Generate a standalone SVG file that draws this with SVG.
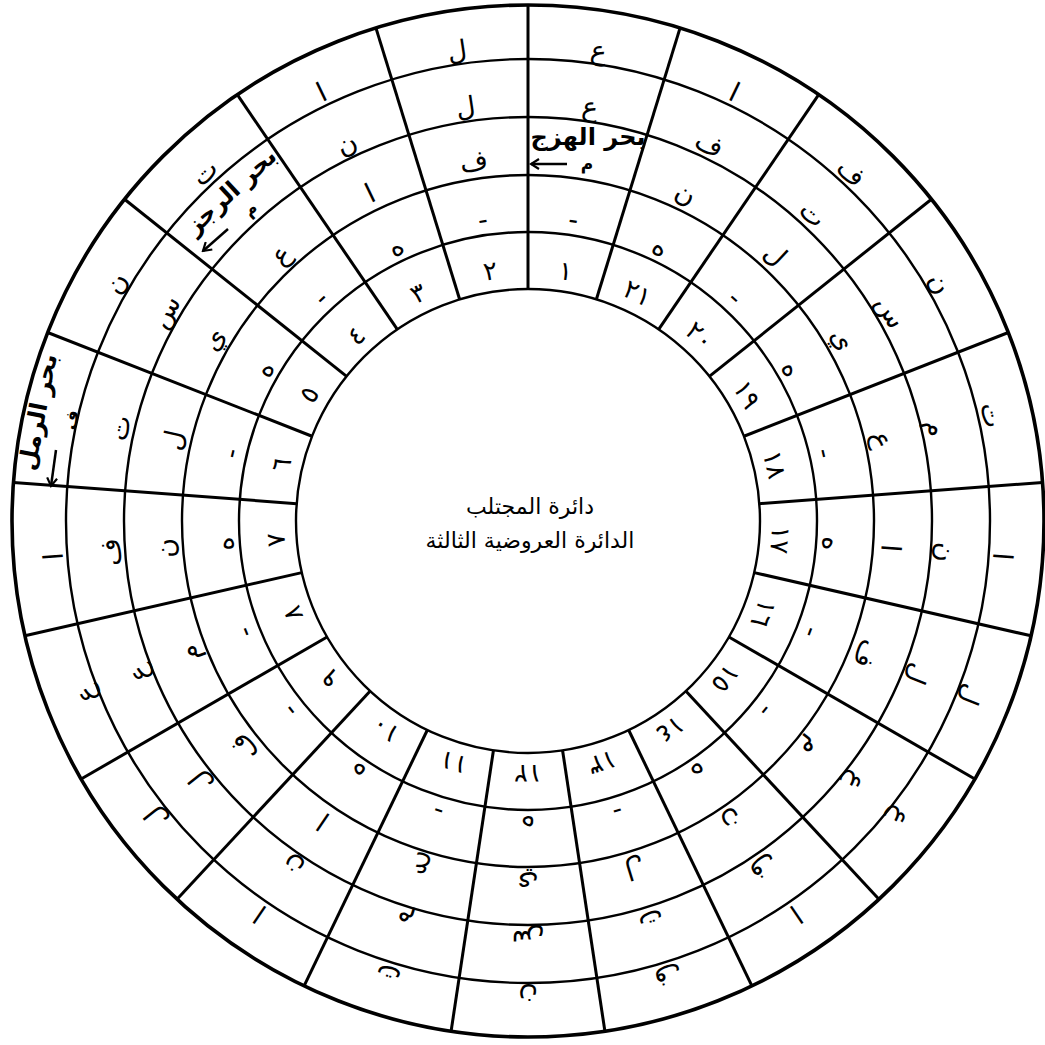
<svg xmlns="http://www.w3.org/2000/svg" width="1045" height="1045" viewBox="0 0 1045 1045">
<style>
.ring{fill:none;stroke:#000;stroke-width:2.4}
.outer{stroke-width:3.6}
.div line{stroke:#000;stroke-width:3}
.t{font-family:'DejaVu Sans',sans-serif;font-size:27px;text-anchor:middle;dominant-baseline:central;fill:#000}
.n{font-size:26px}
.lbl{font-weight:bold;font-size:24px}
.m{font-size:17px;font-weight:bold}
.ctr{font-size:22px}
.arr{fill:none;stroke:#000;stroke-width:2.5}
</style>
<defs>
<marker id="ah" viewBox="0 0 12 12" refX="10" refY="6" markerWidth="12" markerHeight="12" markerUnits="userSpaceOnUse" orient="auto"><path d="M2,1 L10,6 L2,11" fill="none" stroke="#000" stroke-width="2.2"/></marker>
</defs>
<rect width="1045" height="1045" fill="#fff"/>
<g id="rings">
<circle class="ring" cx="528" cy="521" r="232"/>
<circle class="ring" cx="528" cy="521" r="289"/>
<circle class="ring" cx="528" cy="521" r="346"/>
<circle class="ring" cx="528" cy="521" r="404"/>
<circle class="ring" cx="528" cy="521" r="462"/>
<circle class="ring outer" cx="528" cy="521" r="516"/>
</g>
<g id="connectors" class="div">
<line x1="528" y1="289" x2="528" y2="5"/>
<line x1="528" y1="289" x2="528" y2="5" transform="rotate(17.143 528 521)"/>
<line x1="528" y1="289" x2="528" y2="5" transform="rotate(34.286 528 521)"/>
<line x1="528" y1="289" x2="528" y2="5" transform="rotate(51.429 528 521)"/>
<line x1="528" y1="289" x2="528" y2="5" transform="rotate(68.571 528 521)"/>
<line x1="528" y1="289" x2="528" y2="5" transform="rotate(85.714 528 521)"/>
<line x1="528" y1="289" x2="528" y2="5" transform="rotate(102.857 528 521)"/>
<line x1="528" y1="289" x2="528" y2="5" transform="rotate(120 528 521)"/>
<line x1="528" y1="289" x2="528" y2="5" transform="rotate(137.143 528 521)"/>
<line x1="528" y1="289" x2="528" y2="5" transform="rotate(154.286 528 521)"/>
<line x1="528" y1="289" x2="528" y2="5" transform="rotate(171.429 528 521)"/>
<line x1="528" y1="289" x2="528" y2="5" transform="rotate(188.571 528 521)"/>
<line x1="528" y1="289" x2="528" y2="5" transform="rotate(205.714 528 521)"/>
<line x1="528" y1="289" x2="528" y2="5" transform="rotate(222.857 528 521)"/>
<line x1="528" y1="289" x2="528" y2="5" transform="rotate(240 528 521)"/>
<line x1="528" y1="289" x2="528" y2="5" transform="rotate(257.143 528 521)"/>
<line x1="528" y1="289" x2="528" y2="5" transform="rotate(274.286 528 521)"/>
<line x1="528" y1="289" x2="528" y2="5" transform="rotate(291.429 528 521)"/>
<line x1="528" y1="289" x2="528" y2="5" transform="rotate(308.571 528 521)"/>
<line x1="528" y1="289" x2="528" y2="5" transform="rotate(325.714 528 521)"/>
<line x1="528" y1="289" x2="528" y2="5" transform="rotate(342.857 528 521)"/>
</g>
<g id="sector-1" transform="rotate(8.571 528 521)">
<text class="t" x="528" y="45">ع</text><text class="t" x="528" y="102">ع</text><text class="t" x="528" y="216">-</text><text class="t n" x="528" y="268">١</text>
</g>
<g id="sector-2" transform="rotate(-8.571 528 521)">
<text class="t" x="528" y="45">ل</text><text class="t" x="528" y="102">ل</text><text class="t" x="528" y="157">ف</text><text class="t" x="528" y="216">-</text><text class="t n" x="528" y="268">٢</text>
</g>
<g id="sector-3" transform="rotate(-25.714 528 521)">
<text class="t" x="528" y="45">ا</text><text class="t" x="528" y="102">ن</text><text class="t" x="528" y="157">ا</text><text class="t" x="528" y="216">ه</text><text class="t n" x="528" y="268">٣</text>
</g>
<g id="sector-4" transform="rotate(-42.857 528 521)">
<text class="t" x="528" y="45">ت</text><text class="t" x="528" y="157">ع</text><text class="t" x="528" y="216">-</text><text class="t n" x="528" y="268">٤</text>
</g>
<g id="sector-5" transform="rotate(-60 528 521)">
<text class="t" x="528" y="45">ن</text><text class="t" x="528" y="102">س</text><text class="t" x="528" y="157">ي</text><text class="t" x="528" y="216">ه</text><text class="t n" x="528" y="268">٥</text>
</g>
<g id="sector-6" transform="rotate(-77.143 528 521)">
<text class="t" x="528" y="102">ت</text><text class="t" x="528" y="157">ل</text><text class="t" x="528" y="216">-</text><text class="t n" x="528" y="268">٦</text>
</g>
<g id="sector-7" transform="rotate(-94.286 528 521)">
<text class="t" x="528" y="45">ا</text><text class="t" x="528" y="102">ف</text><text class="t" x="528" y="157">ن</text><text class="t" x="528" y="216">ه</text><text class="t n" x="528" y="268">٧</text>
</g>
<g id="sector-8" transform="rotate(-111.429 528 521)">
<text class="t" x="528" y="45">ع</text><text class="t" x="528" y="102">ع</text><text class="t" x="528" y="157">م</text><text class="t" x="528" y="216">-</text><text class="t n" x="528" y="268">٨</text>
</g>
<g id="sector-9" transform="rotate(-128.571 528 521)">
<text class="t" x="528" y="45">ل</text><text class="t" x="528" y="102">ل</text><text class="t" x="528" y="157">ف</text><text class="t" x="528" y="216">-</text><text class="t n" x="528" y="268">٩</text>
</g>
<g id="sector-10" transform="rotate(-145.714 528 521)">
<text class="t" x="528" y="45">ا</text><text class="t" x="528" y="102">ن</text><text class="t" x="528" y="157">ا</text><text class="t" x="528" y="216">ه</text><text class="t n" x="528" y="268">١٠</text>
</g>
<g id="sector-11" transform="rotate(-162.857 528 521)">
<text class="t" x="528" y="45">ت</text><text class="t" x="528" y="102">م</text><text class="t" x="528" y="157">ع</text><text class="t" x="528" y="216">-</text><text class="t n" x="528" y="268">١١</text>
</g>
<g id="sector-12" transform="rotate(-180 528 521)">
<text class="t" x="528" y="45">ن</text><text class="t" x="528" y="102">س</text><text class="t" x="528" y="157">ي</text><text class="t" x="528" y="216">ه</text><text class="t n" x="528" y="268">١٢</text>
</g>
<g id="sector-13" transform="rotate(-197.143 528 521)">
<text class="t" x="528" y="45">ف</text><text class="t" x="528" y="102">ت</text><text class="t" x="528" y="157">ل</text><text class="t" x="528" y="216">-</text><text class="t n" x="528" y="268">١٣</text>
</g>
<g id="sector-14" transform="rotate(-214.286 528 521)">
<text class="t" x="528" y="45">ا</text><text class="t" x="528" y="102">ف</text><text class="t" x="528" y="157">ن</text><text class="t" x="528" y="216">ه</text><text class="t n" x="528" y="268">١٤</text>
</g>
<g id="sector-15" transform="rotate(-231.429 528 521)">
<text class="t" x="528" y="45">ع</text><text class="t" x="528" y="102">ع</text><text class="t" x="528" y="157">م</text><text class="t" x="528" y="216">-</text><text class="t n" x="528" y="268">١٥</text>
</g>
<g id="sector-16" transform="rotate(-248.571 528 521)">
<text class="t" x="528" y="45">ل</text><text class="t" x="528" y="102">ل</text><text class="t" x="528" y="157">ف</text><text class="t" x="528" y="216">-</text><text class="t n" x="528" y="268">١٦</text>
</g>
<g id="sector-17" transform="rotate(-265.714 528 521)">
<text class="t" x="528" y="45">ا</text><text class="t" x="528" y="102">ن</text><text class="t" x="528" y="157">ا</text><text class="t" x="528" y="216">ه</text><text class="t n" x="528" y="268">١٧</text>
</g>
<g id="sector-18" transform="rotate(-282.857 528 521)">
<text class="t" x="528" y="45">ت</text><text class="t" x="528" y="102">م</text><text class="t" x="528" y="157">ع</text><text class="t" x="528" y="216">-</text><text class="t n" x="528" y="268">١٨</text>
</g>
<g id="sector-19" transform="rotate(-300 528 521)">
<text class="t" x="528" y="45">ن</text><text class="t" x="528" y="102">س</text><text class="t" x="528" y="157">ي</text><text class="t" x="528" y="216">ه</text><text class="t n" x="528" y="268">١٩</text>
</g>
<g id="sector-20" transform="rotate(-317.143 528 521)">
<text class="t" x="528" y="45">ف</text><text class="t" x="528" y="102">ت</text><text class="t" x="528" y="157">ل</text><text class="t" x="528" y="216">-</text><text class="t n" x="528" y="268">٢٠</text>
</g>
<g id="sector-21" transform="rotate(-334.286 528 521)">
<text class="t" x="528" y="45">ا</text><text class="t" x="528" y="102">ف</text><text class="t" x="528" y="157">ن</text><text class="t" x="528" y="216">ه</text><text class="t n" x="528" y="268">٢١</text>
</g>
<g id="label-hazaj">
<text class="t lbl" x="588" y="137">بحر الهزج</text>
<text class="t m" x="587" y="164">م</text>
<path class="arr" d="M567,164 H531" marker-end="url(#ah)"/>
</g>
<g id="label-rajaz">
<text class="t lbl" x="231" y="191" transform="rotate(-42.857 231 191)">بحر الرجز</text>
<text class="t m" x="250" y="209" transform="rotate(-42.857 250 209)">م</text>
<path class="arr" d="M228,229 L203,251" marker-end="url(#ah)"/>
</g>
<g id="label-ramal">
<text class="t lbl" x="38" y="412" transform="rotate(-79 38 412)">بحر الرمل</text>
<text class="t m" x="71" y="420" transform="rotate(-79 71 420)">ف</text>
<path class="arr" d="M56,450 L51,486" marker-end="url(#ah)"/>
</g>
<g id="title">
<text class="t ctr" x="530" y="506">دائرة المجتلب</text>
<text class="t ctr" x="530" y="540">الدائرة العروضية الثالثة</text>
</g>
</svg>
